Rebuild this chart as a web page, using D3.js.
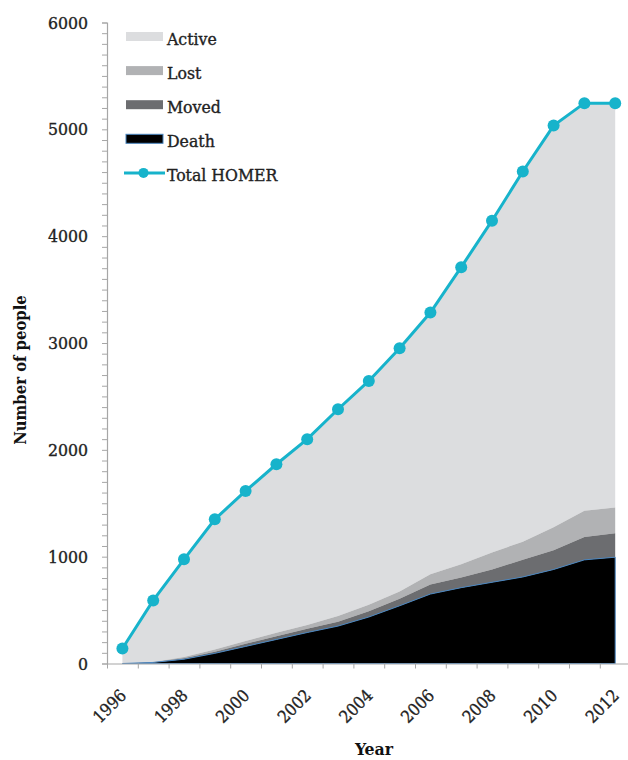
<!DOCTYPE html>
<html>
<head>
<meta charset="utf-8">
<script src="https://cdn.jsdelivr.net/npm/d3@7"></script>
<style>
  html, body { margin: 0; padding: 0; background: #fff; }
  svg { display: block; }
</style>
</head>
<body>
<svg id="chart" width="628" height="760"></svg>
<script>
// ---- data ----
const years  = [1996,1997,1998,1999,2000,2001,2002,2003,2004,2005,2006,2007,2008,2009,2010,2011,2012];
const death  = [0, 10, 40, 95, 160, 225, 290, 350, 435, 540, 650, 710, 760, 810, 880, 970, 995];
const moved  = [0, 2, 10, 15, 25, 30, 35, 40, 55, 65, 90, 95, 120, 160, 180, 215, 225];
const lost   = [0, 3, 10, 20, 25, 33, 35, 55, 60, 70, 95, 125, 160, 170, 215, 245, 240];
const active = [140, 575, 915, 1220, 1405, 1577, 1740, 1935, 2095, 2275, 2450, 2780, 3105, 3465, 3760, 3815, 3785];
const totalHomer = [140, 590, 975, 1350, 1615, 1865, 2100, 2380, 2645, 2950, 3285, 3710, 4145, 4605, 5035, 5245, 5245];
const yearLabels = [1996,1998,2000,2002,2004,2006,2008,2010,2012];
const yMajorTicks = [0,1000,2000,3000,4000,5000,6000];
const legendItems = ["Active","Lost","Moved","Death","Total HOMER"];

// ---- layout ----
const svg = d3.select("#chart");
const x0 = 107, band = 30.8;
const yBottom = 663.5, yTop = 22.5;
const serif = "'DejaVu Serif Condensed', 'DejaVu Serif', serif";
const textColor = "#222";

const x = d3.scaleBand().domain(years).range([x0, x0 + band * years.length]).paddingInner(0).paddingOuter(0);
const cx = d => x(d) + x.bandwidth() / 2;
const y = d3.scaleLinear().domain([0, 6000]).range([yBottom, yTop]);
const xEdge = d3.scaleLinear().domain([0, years.length]).range([x0, x0 + band * years.length]);

const colors = { death: "#000000", moved: "#6c6d70", lost: "#b1b2b4", active: "#dcdddf" };
const lineColor = "#17b3cb";

// ---- stacked areas ----
const table = years.map((yr, i) => ({ year: yr, death: death[i], moved: moved[i], lost: lost[i], active: active[i] }));
const keys = ["death", "moved", "lost", "active"];
const stack = d3.stack().keys(keys)(table);

const area = d3.area()
  .x(d => cx(d.data.year))
  .y0(d => y(d[0]))
  .y1(d => y(d[1]));

svg.append("g").selectAll("path")
  .data(stack.slice().reverse())
  .join("path")
  .attr("d", area)
  .attr("fill", d => colors[d.key])
  .attr("stroke", d => d.key === "death" ? "#4a86c0" : "none")
  .attr("stroke-width", d => d.key === "death" ? 1 : 0);

// ---- axes ----
const axisColor = "#a6a6a6";
const yAxis = svg.append("g").attr("transform", `translate(${x0},0)`)
  .call(d3.axisLeft(y).tickValues(d3.range(0, 6001, 100)).tickSize(5).tickPadding(14)
    .tickFormat(d => yMajorTicks.includes(d) ? d : ""));
yAxis.select(".domain").attr("stroke", axisColor).attr("stroke-width", 1.2);
yAxis.selectAll(".tick line").attr("stroke", axisColor).attr("stroke-width", 1);
yAxis.selectAll(".tick text")
  .attr("font-family", serif).attr("font-size", "17.5px").attr("fill", textColor)
  .attr("stroke", textColor).attr("stroke-width", 0.35);

const xAxis = svg.append("g").attr("transform", `translate(0,${yBottom})`)
  .call(d3.axisBottom(xEdge).tickValues(d3.range(0, years.length + 1)).tickSize(5).tickSizeOuter(0).tickFormat(""));
xAxis.select(".domain").attr("stroke", axisColor).attr("stroke-width", 1.2);
xAxis.selectAll(".tick line").attr("stroke", axisColor).attr("stroke-width", 1);

svg.append("g").selectAll("text")
  .data(yearLabels)
  .join("text")
  .attr("transform", d => `translate(${cx(d) + 5},${yBottom + 33}) rotate(-45)`)
  .attr("text-anchor", "end")
  .attr("font-family", serif).attr("font-size", "17px").attr("fill", textColor)
  .attr("stroke", textColor).attr("stroke-width", 0.3)
  .text(d => d);

// ---- total line ----
const line = d3.line().x((d, i) => cx(years[i])).y(d => y(d));
svg.append("path")
  .datum(totalHomer)
  .attr("d", line)
  .attr("fill", "none")
  .attr("stroke", lineColor)
  .attr("stroke-width", 3);
svg.append("g").selectAll("circle")
  .data(totalHomer)
  .join("circle")
  .attr("cx", (d, i) => cx(years[i]))
  .attr("cy", d => y(d))
  .attr("r", 6)
  .attr("fill", lineColor);

// ---- axis titles ----
svg.append("text")
  .attr("transform", "translate(26,370) rotate(-90)")
  .attr("text-anchor", "middle")
  .attr("font-family", serif).attr("font-weight", "bold").attr("font-size", "16.5px").attr("fill", "#111")
  .text("Number of people");
svg.append("text")
  .attr("x", 374).attr("y", 755)
  .attr("text-anchor", "middle")
  .attr("font-family", serif).attr("font-weight", "bold").attr("font-size", "17.5px").attr("fill", "#111")
  .text("Year");

// ---- legend ----
const legend = svg.append("g");
const legendKeys = ["active", "lost", "moved", "death"];
legendItems.forEach((name, i) => {
  const cy = 36.5 + i * 34.1;
  if (i < 4) {
    legend.append("rect")
      .attr("x", 126).attr("y", cy - 4.5).attr("width", 37).attr("height", 9)
      .attr("fill", colors[legendKeys[i]])
      .attr("stroke", legendKeys[i] === "death" ? "#4a86c0" : "none")
      .attr("stroke-width", 1);
  } else {
    legend.append("line")
      .attr("x1", 124).attr("x2", 165).attr("y1", cy).attr("y2", cy)
      .attr("stroke", lineColor).attr("stroke-width", 3);
    legend.append("circle").attr("cx", 143.5).attr("cy", cy).attr("r", 5).attr("fill", lineColor);
  }
  legend.append("text")
    .attr("x", 167).attr("y", cy + 8)
    .attr("font-family", serif).attr("font-size", "17.5px").attr("fill", textColor)
    .attr("stroke", textColor).attr("stroke-width", 0.35)
    .text(name);
});
</script>
</body>
</html>
